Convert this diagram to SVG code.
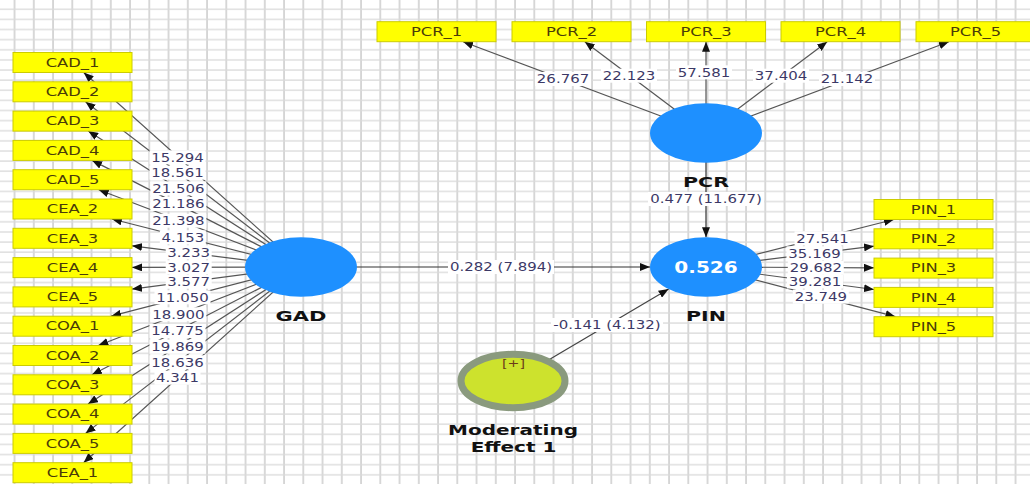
<svg xmlns="http://www.w3.org/2000/svg" width="1030" height="484" viewBox="0 0 1030 484">
<style>
.bx{fill:#ffff00;stroke:#cccc00;stroke-width:1}
.bt{font-family:"DejaVu Sans",sans-serif;font-size:11.5px;fill:#4a3c08;text-anchor:middle}
.e{stroke:#555;stroke-width:1.2;fill:none}
.lb{fill:#fff}
.n{font-family:"DejaVu Sans",sans-serif;font-size:11.5px;fill:#3c3966;text-anchor:middle}
.lv{fill:#1e90ff}
.nm{font-family:"DejaVu Sans",sans-serif;font-size:14.5px;font-weight:bold;fill:#111;text-anchor:middle}
</style>
<defs>
<pattern id="grid" patternUnits="userSpaceOnUse" x="13.55" y="8.3" width="19.25" height="10.12">
<path d="M1,0 V10.12" stroke="#cfcfcf" stroke-width="1.6" fill="none"/>
<path d="M0,1 H19.25" stroke="#d9d9d9" stroke-width="1.3" fill="none"/>
</pattern>
<marker id="ah" viewBox="0 0 10 8" refX="10" refY="4" markerWidth="10" markerHeight="8" markerUnits="userSpaceOnUse" orient="auto">
<path d="M0,0 L10,4 L0,8 z" fill="#111"/>
</marker>
</defs>
<rect width="1030" height="484" fill="#fff"/>
<rect width="1030" height="484" fill="url(#grid)"/>

<g id="connectors">
<g class="e" marker-end="url(#ah)">
<line x1="301" y1="267" x2="83.7" y2="72.5"/>
<line x1="301" y1="267" x2="85.5" y2="101.8"/>
<line x1="301" y1="267" x2="88.2" y2="131.1"/>
<line x1="301" y1="267" x2="92.1" y2="160.4"/>
<line x1="301" y1="267" x2="98.7" y2="189.7"/>
<line x1="301" y1="267" x2="111.9" y2="219"/>
<line x1="301" y1="267" x2="132" y2="245.8"/>
<line x1="301" y1="267" x2="132" y2="267.4"/>
<line x1="301" y1="267" x2="132" y2="289.1"/>
<line x1="301" y1="267" x2="111.1" y2="316.2"/>
<line x1="301" y1="267" x2="98.3" y2="345.5"/>
<line x1="301" y1="267" x2="91.9" y2="374.8"/>
<line x1="301" y1="267" x2="88" y2="404.1"/>
<line x1="301" y1="267" x2="85.5" y2="433.4"/>
<line x1="301" y1="267" x2="83.6" y2="462.7"/>
<line x1="706" y1="133" x2="463.1" y2="41.7"/>
<line x1="706" y1="133" x2="584.8" y2="41.7"/>
<line x1="706" y1="133" x2="706" y2="41.7"/>
<line x1="706" y1="133" x2="827.2" y2="41.7"/>
<line x1="706" y1="133" x2="948.9" y2="41.7"/>
<line x1="706" y1="267" x2="893.9" y2="219.5"/>
<line x1="706" y1="267" x2="874" y2="246.2"/>
<line x1="706" y1="267" x2="874" y2="267.8"/>
<line x1="706" y1="267" x2="874" y2="289.5"/>
<line x1="706" y1="267" x2="895.4" y2="316.7"/>
<line x1="301" y1="267" x2="650" y2="267" style="stroke:#333"/>
<line x1="706" y1="133" x2="706" y2="237.3" style="stroke:#333"/>
<line x1="513" y1="381" x2="668.6" y2="289.1" style="stroke:#444"/>
</g>
<g id="labels">
<g transform="translate(177.5,157.3)"><rect class="lb" x="-28" y="-7" width="56" height="14"/><text class="n" y="4.2" transform="scale(1.3,1)">15.294</text></g>
<g transform="translate(177.5,172.7)"><rect class="lb" x="-28" y="-7" width="56" height="14"/><text class="n" y="4.2" transform="scale(1.3,1)">18.561</text></g>
<g transform="translate(178.3,188.3)"><rect class="lb" x="-28" y="-7" width="56" height="14"/><text class="n" y="4.2" transform="scale(1.3,1)">21.506</text></g>
<g transform="translate(178.3,204)"><rect class="lb" x="-28" y="-7" width="56" height="14"/><text class="n" y="4.2" transform="scale(1.3,1)">21.186</text></g>
<g transform="translate(178.3,220.7)"><rect class="lb" x="-28" y="-7" width="56" height="14"/><text class="n" y="4.2" transform="scale(1.3,1)">21.398</text></g>
<g transform="translate(182.8,237.3)"><rect class="lb" x="-23" y="-7" width="46" height="14"/><text class="n" y="4.2" transform="scale(1.3,1)">4.153</text></g>
<g transform="translate(188.7,252.3)"><rect class="lb" x="-23" y="-7" width="46" height="14"/><text class="n" y="4.2" transform="scale(1.3,1)">3.233</text></g>
<g transform="translate(188.7,267.3)"><rect class="lb" x="-23" y="-7" width="46" height="14"/><text class="n" y="4.2" transform="scale(1.3,1)">3.027</text></g>
<g transform="translate(188.7,281.7)"><rect class="lb" x="-23" y="-7" width="46" height="14"/><text class="n" y="4.2" transform="scale(1.3,1)">3.577</text></g>
<g transform="translate(182.5,297.3)"><rect class="lb" x="-28" y="-7" width="56" height="14"/><text class="n" y="4.2" transform="scale(1.3,1)">11.050</text></g>
<g transform="translate(178.3,314.3)"><rect class="lb" x="-28" y="-7" width="56" height="14"/><text class="n" y="4.2" transform="scale(1.3,1)">18.900</text></g>
<g transform="translate(177.5,331)"><rect class="lb" x="-28" y="-7" width="56" height="14"/><text class="n" y="4.2" transform="scale(1.3,1)">14.775</text></g>
<g transform="translate(177.5,346.7)"><rect class="lb" x="-28" y="-7" width="56" height="14"/><text class="n" y="4.2" transform="scale(1.3,1)">19.869</text></g>
<g transform="translate(177.5,362.3)"><rect class="lb" x="-28" y="-7" width="56" height="14"/><text class="n" y="4.2" transform="scale(1.3,1)">18.636</text></g>
<g transform="translate(177.5,377.7)"><rect class="lb" x="-23" y="-7" width="46" height="14"/><text class="n" y="4.2" transform="scale(1.3,1)">4.341</text></g>
<g transform="translate(563,79)"><rect class="lb" x="-28" y="-7" width="56" height="14"/><text class="n" y="4.2" transform="scale(1.3,1)">26.767</text></g>
<g transform="translate(629,75.7)"><rect class="lb" x="-28" y="-7" width="56" height="14"/><text class="n" y="4.2" transform="scale(1.3,1)">22.123</text></g>
<g transform="translate(704,72.3)"><rect class="lb" x="-28" y="-7" width="56" height="14"/><text class="n" y="4.2" transform="scale(1.3,1)">57.581</text></g>
<g transform="translate(781,75.7)"><rect class="lb" x="-28" y="-7" width="56" height="14"/><text class="n" y="4.2" transform="scale(1.3,1)">37.404</text></g>
<g transform="translate(847,79)"><rect class="lb" x="-28" y="-7" width="56" height="14"/><text class="n" y="4.2" transform="scale(1.3,1)">21.142</text></g>
<g transform="translate(822.5,238.3)"><rect class="lb" x="-28" y="-7" width="56" height="14"/><text class="n" y="4.2" transform="scale(1.3,1)">27.541</text></g>
<g transform="translate(814.5,253.3)"><rect class="lb" x="-28" y="-7" width="56" height="14"/><text class="n" y="4.2" transform="scale(1.3,1)">35.169</text></g>
<g transform="translate(815.8,267.7)"><rect class="lb" x="-28" y="-7" width="56" height="14"/><text class="n" y="4.2" transform="scale(1.3,1)">29.682</text></g>
<g transform="translate(815,281.5)"><rect class="lb" x="-28" y="-7" width="56" height="14"/><text class="n" y="4.2" transform="scale(1.3,1)">39.281</text></g>
<g transform="translate(820.8,296.7)"><rect class="lb" x="-28" y="-7" width="56" height="14"/><text class="n" y="4.2" transform="scale(1.3,1)">23.749</text></g>
<g transform="translate(501,267)"><rect class="lb" x="-53" y="-7" width="106" height="14"/><text class="n" y="4.2" transform="scale(1.3,1)">0.282 (7.894)</text></g>
<g transform="translate(706,199)"><rect class="lb" x="-58" y="-7" width="116" height="14"/><text class="n" y="4.2" transform="scale(1.3,1)">0.477 (11.677)</text></g>
<g transform="translate(607,325)"><rect class="lb" x="-56" y="-7" width="112" height="14"/><text class="n" y="4.2" transform="scale(1.3,1)">-0.141 (4.132)</text></g>
</g>
</g>

<g id="CAD_1"><rect class="bx" x="13" y="52.5" width="119" height="20"/><text class="bt" transform="translate(72.5,66.7) scale(1.42,1)">CAD_1</text></g>
<g id="CAD_2"><rect class="bx" x="13" y="81.8" width="119" height="20"/><text class="bt" transform="translate(72.5,96) scale(1.42,1)">CAD_2</text></g>
<g id="CAD_3"><rect class="bx" x="13" y="111.1" width="119" height="20"/><text class="bt" transform="translate(72.5,125.3) scale(1.42,1)">CAD_3</text></g>
<g id="CAD_4"><rect class="bx" x="13" y="140.4" width="119" height="20"/><text class="bt" transform="translate(72.5,154.6) scale(1.42,1)">CAD_4</text></g>
<g id="CAD_5"><rect class="bx" x="13" y="169.7" width="119" height="20"/><text class="bt" transform="translate(72.5,183.9) scale(1.42,1)">CAD_5</text></g>
<g id="CEA_2"><rect class="bx" x="13" y="199" width="119" height="20"/><text class="bt" transform="translate(72.5,213.2) scale(1.42,1)">CEA_2</text></g>
<g id="CEA_3"><rect class="bx" x="13" y="228.3" width="119" height="20"/><text class="bt" transform="translate(72.5,242.5) scale(1.42,1)">CEA_3</text></g>
<g id="CEA_4"><rect class="bx" x="13" y="257.6" width="119" height="20"/><text class="bt" transform="translate(72.5,271.8) scale(1.42,1)">CEA_4</text></g>
<g id="CEA_5"><rect class="bx" x="13" y="286.9" width="119" height="20"/><text class="bt" transform="translate(72.5,301.1) scale(1.42,1)">CEA_5</text></g>
<g id="COA_1"><rect class="bx" x="13" y="316.2" width="119" height="20"/><text class="bt" transform="translate(72.5,330.4) scale(1.42,1)">COA_1</text></g>
<g id="COA_2"><rect class="bx" x="13" y="345.5" width="119" height="20"/><text class="bt" transform="translate(72.5,359.7) scale(1.42,1)">COA_2</text></g>
<g id="COA_3"><rect class="bx" x="13" y="374.8" width="119" height="20"/><text class="bt" transform="translate(72.5,389) scale(1.42,1)">COA_3</text></g>
<g id="COA_4"><rect class="bx" x="13" y="404.1" width="119" height="20"/><text class="bt" transform="translate(72.5,418.3) scale(1.42,1)">COA_4</text></g>
<g id="COA_5"><rect class="bx" x="13" y="433.4" width="119" height="20"/><text class="bt" transform="translate(72.5,447.6) scale(1.42,1)">COA_5</text></g>
<g id="CEA_1"><rect class="bx" x="13" y="462.7" width="119" height="20"/><text class="bt" transform="translate(72.5,476.9) scale(1.42,1)">CEA_1</text></g>

<g id="PCR_1"><rect class="bx" x="377" y="21.7" width="119" height="20"/><text class="bt" transform="translate(436.5,35.9) scale(1.42,1)">PCR_1</text></g>
<g id="PCR_2"><rect class="bx" x="512" y="21.7" width="119" height="20"/><text class="bt" transform="translate(571.5,35.9) scale(1.42,1)">PCR_2</text></g>
<g id="PCR_3"><rect class="bx" x="646.5" y="21.7" width="119" height="20"/><text class="bt" transform="translate(706,35.9) scale(1.42,1)">PCR_3</text></g>
<g id="PCR_4"><rect class="bx" x="781" y="21.7" width="119" height="20"/><text class="bt" transform="translate(840.5,35.9) scale(1.42,1)">PCR_4</text></g>
<g id="PCR_5"><rect class="bx" x="916" y="21.7" width="119" height="20"/><text class="bt" transform="translate(975.5,35.9) scale(1.42,1)">PCR_5</text></g>

<g id="PIN_1"><rect class="bx" x="874" y="199.5" width="119" height="20"/><text class="bt" transform="translate(933.5,213.7) scale(1.42,1)">PIN_1</text></g>
<g id="PIN_2"><rect class="bx" x="874" y="228.8" width="119" height="20"/><text class="bt" transform="translate(933.5,243) scale(1.42,1)">PIN_2</text></g>
<g id="PIN_3"><rect class="bx" x="874" y="258.1" width="119" height="20"/><text class="bt" transform="translate(933.5,272.3) scale(1.42,1)">PIN_3</text></g>
<g id="PIN_4"><rect class="bx" x="874" y="287.4" width="119" height="20"/><text class="bt" transform="translate(933.5,301.6) scale(1.42,1)">PIN_4</text></g>
<g id="PIN_5"><rect class="bx" x="874" y="316.7" width="119" height="20"/><text class="bt" transform="translate(933.5,330.9) scale(1.42,1)">PIN_5</text></g>

<g id="GAD"><ellipse class="lv" cx="301" cy="267" rx="56" ry="29.7"/><text class="nm" transform="translate(301,320.7) scale(1.45,1)">GAD</text></g>
<g id="PCR"><ellipse class="lv" cx="706" cy="133" rx="56" ry="29.7"/><text class="nm" transform="translate(706,186.7) scale(1.42,1)">PCR</text></g>
<g id="PIN"><ellipse class="lv" cx="706" cy="267" rx="56" ry="29.7"/><text transform="translate(706,273) scale(1.25,1)" style="font-family:'DejaVu Sans',sans-serif;font-size:16px;font-weight:bold;fill:#fff;text-anchor:middle">0.526</text><text class="nm" transform="translate(706,321) scale(1.42,1)">PIN</text></g>
<g id="Moderating_Effect_1">
<ellipse cx="513" cy="381" rx="52" ry="26.7" fill="#cde22d" stroke="#8a9a7e" stroke-width="7"/>
<text transform="translate(513.5,367) scale(1.42,1)" style="font-family:'DejaVu Sans',sans-serif;font-size:10px;fill:#6b3a1a;text-anchor:middle">[+]</text>
<text class="nm" transform="translate(513,435) scale(1.38,1)">Moderating</text>
<text class="nm" transform="translate(513.5,451.7) scale(1.38,1)">Effect 1</text>
</g>
</svg>
